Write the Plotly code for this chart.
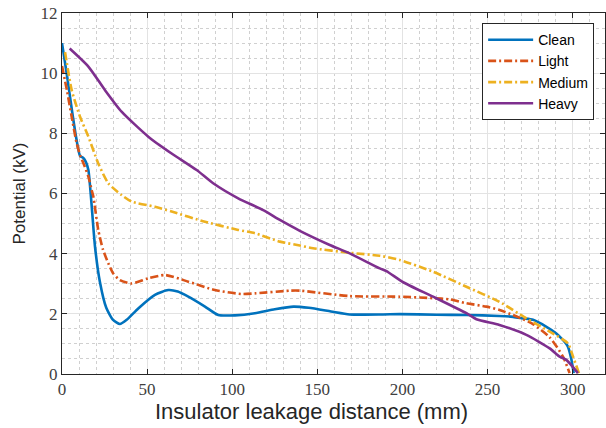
import plotly.graph_objects as go

# Insulator leakage distance (mm) and potential (kV) for each pollution level
clean_x = [0, 3, 6, 8.5, 10.6, 12.5, 14, 15.5, 17, 19.4, 22.3, 26, 30, 34, 38, 44.8, 54.6, 62.4, 68, 74.2, 84, 91.8, 101.6, 113.3, 125, 136, 145, 158, 169, 188.6, 198.4, 220, 237.6, 257, 265, 270.8, 276.7, 284.6, 290.4, 294.3, 297.2, 299.2, 300.6]
clean_y = [11.0, 9.9, 8.7, 7.8, 7.25, 7.18, 7.05, 6.78, 5.9, 4.23, 3.05, 2.2, 1.8, 1.66, 1.8, 2.18, 2.63, 2.79, 2.74, 2.57, 2.24, 1.96, 1.95, 2.02, 2.15, 2.24, 2.2, 2.08, 1.98, 1.98, 1.99, 1.97, 1.96, 1.93, 1.9, 1.85, 1.8, 1.57, 1.35, 1.13, 0.91, 0.5, 0.03]

light_x = [0, 3, 5.7, 8.5, 10.6, 13, 15.5, 17.4, 18.4, 21.3, 24, 27.2, 30, 34, 40.9, 50.7, 60.5, 74.2, 89.8, 105.5, 113.3, 133.8, 139.7, 169, 198.4, 218, 227.8, 237.6, 249.3, 257, 265, 276.7, 286.5, 294.3, 298.2]
light_y = [10.24, 9.4, 8.55, 7.7, 7.28, 6.95, 6.56, 6.12, 5.9, 4.79, 4.15, 3.68, 3.35, 3.12, 3.01, 3.18, 3.29, 3.07, 2.79, 2.66, 2.68, 2.77, 2.77, 2.59, 2.57, 2.52, 2.48, 2.35, 2.24, 2.13, 1.96, 1.66, 1.22, 0.58, 0.03]

medium_x = [1.8, 5.7, 10.6, 15.5, 21.3, 27.2, 35, 40.9, 54.6, 64.4, 84, 103.5, 113.3, 128, 139.7, 147.5, 169, 186.7, 198.4, 218, 237.6, 257, 272.8, 286.5, 297.2, 300.2, 303.7]
medium_y = [10.7, 9.44, 8.55, 7.89, 7.0, 6.34, 5.95, 5.73, 5.56, 5.4, 5.06, 4.79, 4.68, 4.4, 4.27, 4.18, 4.03, 3.93, 3.79, 3.4, 2.9, 2.4, 1.85, 1.41, 1.02, 0.58, 0.03]

heavy_x = [4.5, 15.5, 25.2, 35, 50.7, 64.4, 79.1, 88.8, 103.5, 118.2, 128, 139.7, 157.3, 169, 186.7, 190.6, 200.4, 218, 237.6, 243.5, 257, 272.8, 286.5, 292.3, 296.3, 303.1]
heavy_y = [10.82, 10.22, 9.44, 8.72, 7.89, 7.33, 6.78, 6.34, 5.84, 5.45, 5.12, 4.76, 4.29, 4.01, 3.51, 3.42, 3.05, 2.57, 2.02, 1.82, 1.63, 1.3, 0.85, 0.58, 0.47, 0.03]

series_names = ["Clean", "Light", "Medium", "Heavy"]
colors = ["#0072BD", "#D95319", "#EDB120", "#7E2F8E"]
dashes = ["solid", "8px,3px,2px,3px", "8px,3px,2px,3px", "solid"]

x_ticks = [0, 50, 100, 150, 200, 250, 300]
y_ticks = [0, 2, 4, 6, 8, 10, 12]
x_title = "Insulator leakage distance (mm)"
y_title = "Potential (kV)"

data = [(clean_x, clean_y), (light_x, light_y), (medium_x, medium_y), (heavy_x, heavy_y)]

fig = go.Figure()
for (xs, ys), name, c, d in zip(data, series_names, colors, dashes):
    fig.add_trace(go.Scatter(x=xs, y=ys, mode="lines", name=name,
                             line=dict(color=c, width=2.6, dash=d, shape="spline", smoothing=0.6)))

axis_common = dict(
    showline=True, linecolor="#262626", linewidth=1, mirror="ticks",
    ticks="inside", ticklen=5, tickcolor="#262626", tickwidth=1,
    showgrid=True, gridcolor="#e3e3e3", gridwidth=1, zeroline=False,
    tickfont=dict(family="Liberation Serif", size=17, color="#404040"),
)

fig.update_xaxes(range=[0, 319], tickvals=x_ticks, ticktext=[str(v) for v in x_ticks],
                 minor=dict(dtick=10, tick0=0, showgrid=True, griddash="dot", gridcolor="#d0d0d0", gridwidth=1, ticks=""),
                 **axis_common)
fig.update_yaxes(range=[0, 12], tickvals=y_ticks, ticktext=[str(v) for v in y_ticks],
                 title=dict(text=y_title,
                            font=dict(family="Liberation Sans", size=17, color="#262626"), standoff=10),
                 minor=dict(dtick=0.5, tick0=0, showgrid=True, griddash="dot", gridcolor="#d0d0d0", gridwidth=1, ticks=""),
                 **axis_common)

fig.add_annotation(text=x_title, xref="paper", yref="paper", x=0.4586, y=-0.1025,
                   xanchor="center", yanchor="middle", showarrow=False,
                   font=dict(family="Liberation Sans", size=22, color="#262626"))

fig.update_layout(
    width=606, height=428,
    margin=dict(l=62, r=1, t=13, b=54),
    paper_bgcolor="white", plot_bgcolor="white",
    legend=dict(x=0.98, y=0.972, xanchor="right", yanchor="top",
                bgcolor="white", bordercolor="#262626", borderwidth=1,
                font=dict(family="Liberation Sans", size=14, color="#000000"),
                tracegroupgap=0, itemwidth=45),
    showlegend=True,
)

fig.write_html("out.html")
